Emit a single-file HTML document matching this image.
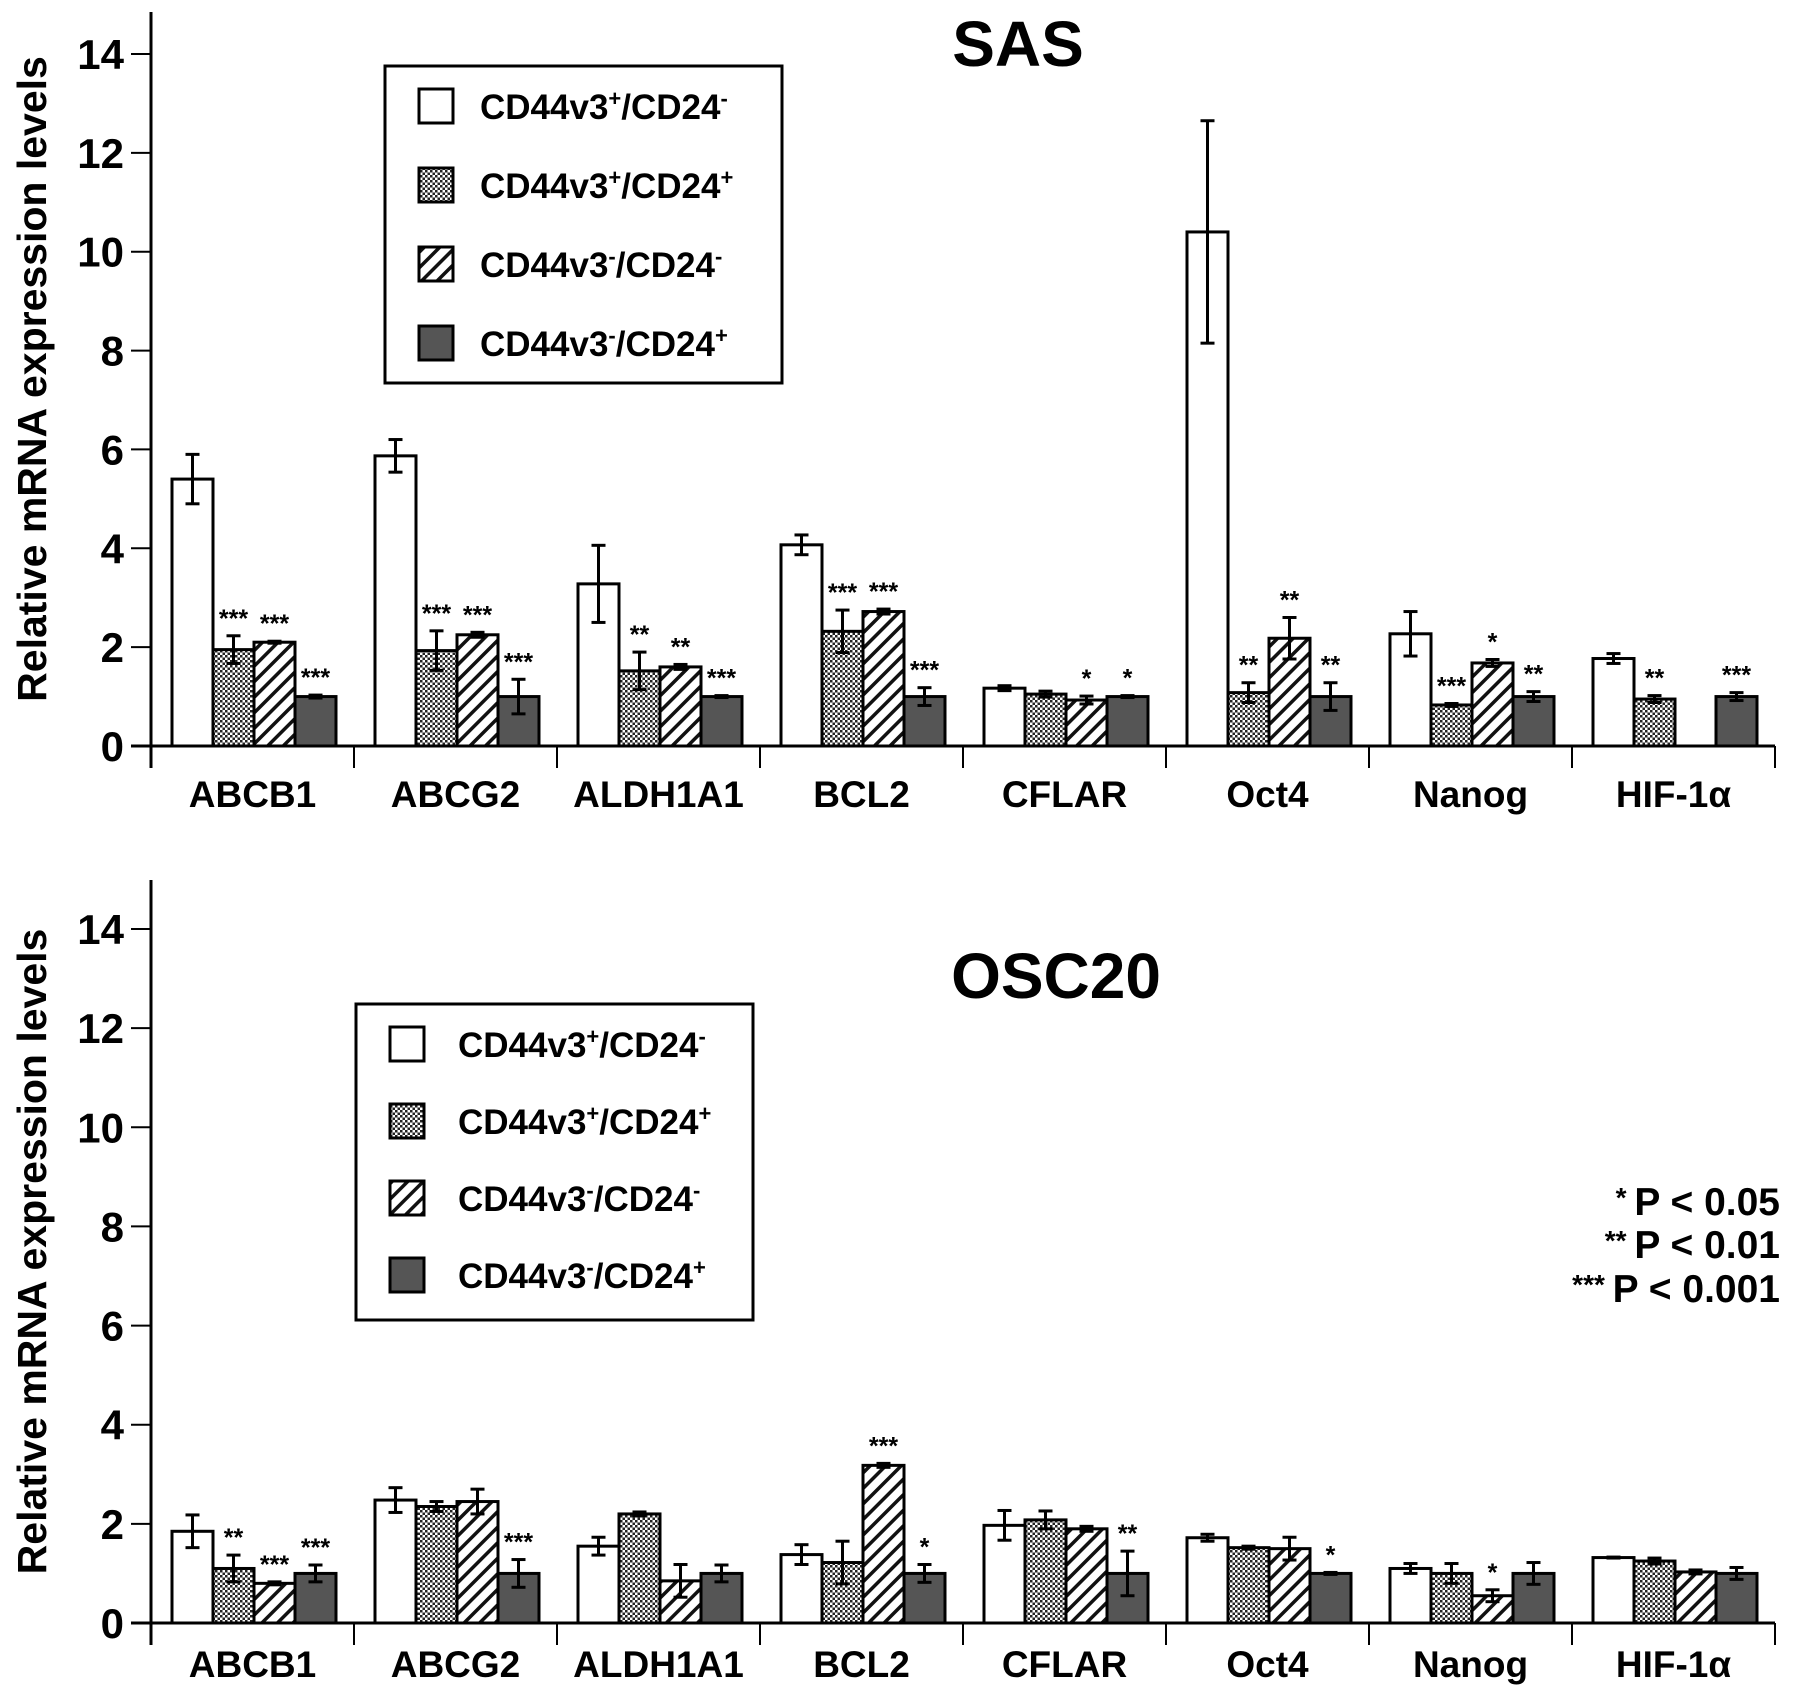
<!DOCTYPE html>
<html><head><meta charset="utf-8"><style>
html,body{margin:0;padding:0;background:#fff;}
svg{display:block;font-family:"Liberation Sans",Arial,sans-serif;font-weight:bold;}
</style></head><body>
<svg id="chart" width="1795" height="1701" viewBox="0 0 1795 1701" xmlns="http://www.w3.org/2000/svg">
<defs>
<pattern id="check" width="5" height="5" patternUnits="userSpaceOnUse">
<rect width="5" height="5" fill="#fff"/><rect width="2.5" height="2.5" fill="#222"/><rect x="2.5" y="2.5" width="2.5" height="2.5" fill="#222"/>
</pattern>
<pattern id="hatch" width="11" height="11" patternUnits="userSpaceOnUse" patternTransform="rotate(45)">
<rect width="11" height="11" fill="#fff"/><rect x="0" width="3.5" height="11" fill="#111"/>
</pattern>
</defs>
</svg>
<script>
const categories = ["ABCB1","ABCG2","ALDH1A1","BCL2","CFLAR","Oct4","Nanog","HIF-1\u03b1"];
const seriesNames = ["CD44v3+/CD24-","CD44v3+/CD24+","CD44v3-/CD24-","CD44v3-/CD24+"];
const yTicks = [0,2,4,6,8,10,12,14];
// SAS
const sasS1 = [5.4,5.87,3.28,4.07,1.17,10.4,2.27,1.77];
const sasS1e = [0.5,0.33,0.78,0.2,0.05,2.25,0.45,0.1];
const sasS2 = [1.95,1.93,1.52,2.32,1.05,1.08,0.83,0.95];
const sasS2e = [0.28,0.4,0.38,0.43,0.06,0.2,0.03,0.07];
const sasS3 = [2.1,2.25,1.6,2.72,0.93,2.18,1.68,null];
const sasS3e = [0.02,0.05,0.05,0.05,0.08,0.42,0.07,0];
const sasS4 = [1.0,1.0,1.0,1.0,1.0,1.0,1.0,1.0];
const sasS4e = [0.03,0.35,0.02,0.18,0.02,0.28,0.1,0.08];
const sasSig = [["","***","***","***"],["","***","***","***"],["","**","**","***"],["","***","***","***"],["","","*","*"],["","**","**","**"],["","***","*","**"],["","**","","***"]];
// OSC20
const oscS1 = [1.85,2.48,1.55,1.38,1.97,1.72,1.1,1.32];
const oscS1e = [0.33,0.25,0.18,0.2,0.3,0.07,0.1,0.01];
const oscS2 = [1.1,2.35,2.2,1.22,2.08,1.52,1.0,1.25];
const oscS2e = [0.27,0.1,0.04,0.43,0.18,0.03,0.2,0.06];
const oscS3 = [0.8,2.45,0.85,3.18,1.9,1.5,0.55,1.03];
const oscS3e = [0.03,0.25,0.33,0.04,0.05,0.23,0.12,0.04];
const oscS4 = [1.0,1.0,1.0,1.0,1.0,1.0,1.0,1.0];
const oscS4e = [0.17,0.28,0.17,0.18,0.45,0.02,0.22,0.12];
const oscSig = [["","**","***","***"],["","","","***"],["","","",""],["","","***","*"],["","","","**"],["","","","*"],["","","*",""],["","","",""]];

const NS="http://www.w3.org/2000/svg";
const svg=document.getElementById('chart');
function el(tag,attrs,parent){const e=document.createElementNS(NS,tag);for(const k in attrs)e.setAttribute(k,attrs[k]);(parent||svg).appendChild(e);return e;}
const fills=["#fff","url(#check)","url(#hatch)","#555"];
const X0=151,X1=1775;
const gw=(X1-X0)/categories.length;

function panel(pfx,y0,y14,axisTop,labelBase,title,tx,ty,vals,errs,sig,leg){
  const g=el('g',{});
  
  
  const ys=v=>y0-(v/14)*(y0-y14);
  const ax=el('line',{x1:X0,y1:axisTop,x2:X0,y2:y0+22,stroke:'#000','stroke-width':3},g);
  
  const xa=el('line',{x1:X0-20,y1:y0,x2:X1,y2:y0,stroke:'#000','stroke-width':3},g);
  
  yTicks.forEach(t=>{
    el('line',{x1:X0-20,y1:ys(t),x2:X0,y2:ys(t),stroke:'#000','stroke-width':2},g);
    const tl=el('text',{x:X0-27,y:ys(t)+15,'text-anchor':'end','font-size':42},g);tl.textContent=t;
    
  });
  const cy=(y0+axisTop)/2;
  const yt=el('text',{x:0,y:0,transform:`translate(46,${cy}) rotate(-90)`,'text-anchor':'middle','font-size':41},g);
  yt.textContent='Relative mRNA expression levels';
  
  const tt=el('text',{x:tx,y:ty,'text-anchor':'middle','font-size':64},g);tt.textContent=title;
  
  const bw=41;
  categories.forEach((c,i)=>{
    const gx=X0+i*gw;
    el('line',{x1:gx+gw,y1:y0,x2:gx+gw,y2:y0+22,stroke:'#000','stroke-width':2},g);
    const cl=el('text',{x:gx+gw/2,y:labelBase,'text-anchor':'middle','font-size':37},g);cl.textContent=c;
    
    for(let s=0;s<4;s++){
      const v=vals[s][i];if(v===null)continue;
      const bx=gx+21+s*bw;
      const r=el('rect',{x:bx,y:ys(v),width:bw,height:y0-ys(v),fill:fills[s],stroke:'#000','stroke-width':3},g);
      
      
      const e=errs[s][i],cx=bx+bw/2;
      const eg=el('g',{stroke:'#000','stroke-width':3},g);
      
      el('line',{x1:cx,y1:ys(v+e),x2:cx,y2:ys(v-e)},eg);
      el('line',{x1:cx-7,y1:ys(v+e),x2:cx+7,y2:ys(v+e)},eg);
      el('line',{x1:cx-7,y1:ys(v-e),x2:cx+7,y2:ys(v-e)},eg);
      if(sig[i][s]){
        const st=el('text',{x:cx,y:ys(v+e)-9,'text-anchor':'middle','font-size':25},g);st.textContent=sig[i][s];
        
      }
    }
  });
  const lg=el('g',{},g);
  
  el('rect',{x:leg.x,y:leg.y,width:leg.w,height:leg.h,fill:'#fff',stroke:'#000','stroke-width':3},lg);
  const lbl=[["CD44v3","+","/CD24","-"],["CD44v3","+","/CD24","+"],["CD44v3","-","/CD24","-"],["CD44v3","-","/CD24","+"]];
  for(let s=0;s<4;s++){
    const ry=leg.y+leg.r0+s*leg.dr;
    const sw=el('rect',{x:leg.x+leg.sx,y:ry-17,width:34,height:34,fill:fills[s],stroke:'#000','stroke-width':3},lg);
    
    const t=el('text',{x:leg.x+leg.tx,y:ry+13,'font-size':35},lg);
    
    const p=lbl[s];
    const a=el('tspan',{},t);a.textContent=p[0];
    const b=el('tspan',{'font-size':22,dy:-13},t);b.textContent=p[1];
    const c=el('tspan',{'font-size':35,dy:13},t);c.textContent=p[2];
    const d=el('tspan',{'font-size':22,dy:-13},t);d.textContent=p[3];
  }
}
panel('sas',746,54,12,807,'SAS',1018,66,[sasS1,sasS2,sasS3,sasS4],[sasS1e,sasS2e,sasS3e,sasS4e],sasSig,{x:385,y:66,w:397,h:317,sx:34,tx:95,r0:40,dr:79});
panel('osc20',1623,929,880,1677,'OSC20',1056,998,[oscS1,oscS2,oscS3,oscS4],[oscS1e,oscS2e,oscS3e,oscS4e],oscSig,{x:356,y:1004,w:397,h:316,sx:34,tx:102,r0:40,dr:77});
const pl=[["*","P < 0.05",1215],["**","P < 0.01",1258],["***","P < 0.001",1302]];
pl.forEach(p=>{
  const t=el('text',{x:1780,y:p[2],'text-anchor':'end','font-size':39});
  
  
  const a=el('tspan',{'font-size':28,dy:-8},t);a.textContent=p[0]+' ';
  const b=el('tspan',{'font-size':39,dy:8},t);b.textContent=p[1];
});
</script>
</body></html>
